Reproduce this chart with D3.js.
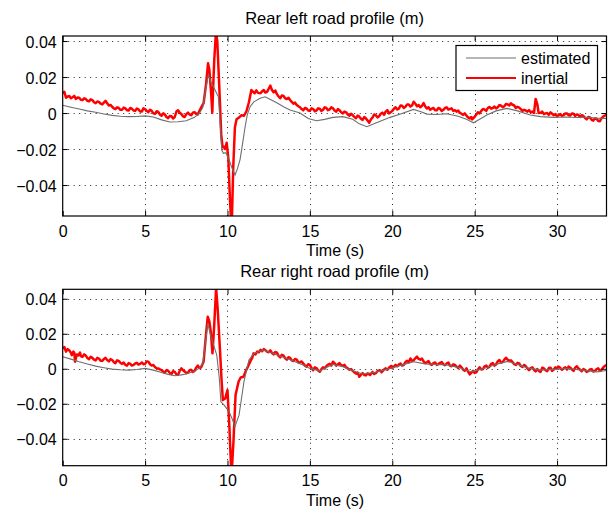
<!DOCTYPE html>
<html>
<head>
<meta charset="utf-8">
<script src="https://cdn.jsdelivr.net/npm/d3@7"></script>
<style>
  body { margin: 0; background: #fff; }
  svg { display: block; font-family: "Liberation Sans", Arial, Helvetica, sans-serif; }
</style>
</head>
<body>
<div id="chart"></div>
<script>
// ---- data: [time (s), profile (m)] ----
const xLimits = [0, 33];
const xTicks = [0, 5, 10, 15, 20, 25, 30];
const yTicks = [-0.04, -0.02, 0, 0.02, 0.04];
const leftYLimits = [-0.0572, 0.0428];
const rightYLimits = [-0.0554, 0.0454];
const titles = ["Rear left road profile (m)", "Rear right road profile (m)"];
const seriesNames = ["estimated", "inertial"];

const leftEstimated = [
  [0, 0.0043], [0.5, 0.0032], [1, 0.0022], [1.5, 0.0012], [2, 0.0004], [2.5, -0.0005], [3, -0.0013],
  [3.5, -0.0018], [4, -0.002], [4.5, -0.0019], [5, -0.0016], [5.5, -0.0022], [6, -0.0038], [6.5, -0.005],
  [7, -0.0048], [7.5, -0.0043], [8, -0.0024], [8.3, 0.0], [8.5, 0.003], [8.65, 0.012], [8.84, 0.0211],
  [9.0, 0.017], [9.15, 0.0146], [9.45, 0.009], [9.55, -0.005], [9.65, -0.0206], [9.75, -0.0224],
  [9.9, -0.022], [10.06, -0.025], [10.25, -0.03], [10.46, -0.0344], [10.6, -0.031], [10.76, -0.026],
  [10.9, -0.018], [11.07, -0.0076], [11.2, -0.001], [11.37, 0.0035], [11.6, 0.0062], [11.98, 0.0082],
  [12.28, 0.009], [12.6, 0.0075], [12.99, 0.0057], [13.4, 0.0035], [13.8, 0.0017], [14.4, 0.0],
  [14.9, -0.003], [15.4, -0.0043], [15.9, -0.0035], [16.4, -0.0024], [17.0, -0.002], [17.6, -0.0035],
  [18.0, -0.006], [18.46, -0.0076], [19.0, -0.0055], [19.87, -0.0024], [20.5, -0.0005], [21.29, 0.002],
  [21.7, 0.0008], [22.1, -0.0006], [22.7, -0.0008], [23.3, -0.0004], [24.0, -0.0018], [24.5, -0.0035],
  [24.93, -0.0054], [25.3, -0.0035], [25.74, -0.0011], [26.3, 0.0012], [26.96, 0.0026], [27.6, 0.0012],
  [28.37, -0.0011], [29.0, -0.002], [29.79, -0.0024], [30.5, -0.0022], [31.2, -0.0025], [31.8, -0.0024],
  [32.4, -0.0028], [33, -0.003]
];

const leftInertial = [
  [0, 0.011], [0.1, 0.0118], [0.2, 0.0085], [0.3, 0.0092], [0.4, 0.0095], [0.5, 0.0082], [0.6, 0.0088],
  [0.7, 0.0095], [0.8, 0.0078], [0.9, 0.0086], [1.0, 0.0085], [1.1, 0.0074], [1.2, 0.0072], [1.3, 0.0082],
  [1.4, 0.0078], [1.5, 0.0068], [1.6, 0.0065], [1.7, 0.0076], [1.8, 0.0072], [1.9, 0.006], [2.0, 0.0055],
  [2.1, 0.0064], [2.2, 0.0062], [2.3, 0.0052], [2.4, 0.0048], [2.5, 0.0058], [2.6, 0.0068], [2.7, 0.0054],
  [2.8, 0.0042], [2.9, 0.0045], [3.0, 0.0035], [3.1, 0.0026], [3.2, 0.0022], [3.3, 0.0032], [3.4, 0.0028],
  [3.5, 0.0018], [3.6, 0.0018], [3.7, 0.003], [3.8, 0.0026], [3.9, 0.0016], [4.0, 0.0014], [4.1, 0.0028],
  [4.2, 0.0024], [4.3, 0.0014], [4.4, 0.0012], [4.5, 0.0025], [4.6, 0.002], [4.7, 0.0008], [4.8, 0.0008],
  [4.9, 0.0026], [5.0, 0.0022], [5.1, 0.0012], [5.2, 0.0005], [5.3, 0.0018], [5.4, 0.0012], [5.5, -0.0002],
  [5.6, -0.0004], [5.7, 0.001], [5.8, 0.0006], [5.9, -0.0008], [6.0, -0.0015], [6.1, -0.0002],
  [6.2, -0.0008], [6.3, -0.0022], [6.4, -0.0028], [6.5, -0.0016], [6.6, -0.0018], [6.7, -0.003],
  [6.8, -0.0022], [6.9, 0.0008], [7.0, 0.0015], [7.1, 0.0002], [7.2, -0.0005], [7.3, -0.0018],
  [7.4, -0.0022], [7.5, -0.0006], [7.6, 0.0002], [7.7, -0.0008], [7.8, -0.0012], [7.9, 0.0002],
  [8.0, 0.0005], [8.1, -0.0004], [8.2, -0.0008], [8.3, 0.0012], [8.4, 0.003], [8.55, 0.0055],
  [8.7, 0.016], [8.82, 0.0276], [8.9, 0.024], [9.0, 0.012], [9.08, 0.0002], [9.12, 0.012], [9.2, 0.03],
  [9.3, 0.045], [9.38, 0.04], [9.5, 0.015], [9.62, -0.012], [9.7, -0.019], [9.78, -0.0187], [9.85, -0.02],
  [9.95, -0.0165], [10.05, -0.025], [10.15, -0.048], [10.25, -0.066], [10.35, -0.03], [10.45, -0.008],
  [10.55, -0.0035], [10.7, -0.0025], [10.85, -0.0012], [11.0, -0.0015], [11.15, 0.001], [11.3, 0.006],
  [11.45, 0.0128], [11.55, 0.0118], [11.65, 0.011], [11.75, 0.0126], [11.85, 0.0112], [12.0, 0.011],
  [12.1, 0.012], [12.2, 0.0128], [12.3, 0.0114], [12.4, 0.0118], [12.5, 0.0135], [12.6, 0.0152],
  [12.7, 0.0128], [12.8, 0.0115], [12.9, 0.0125], [13.0, 0.0105], [13.1, 0.0092], [13.2, 0.0082],
  [13.3, 0.0098], [13.4, 0.0095], [13.5, 0.0082], [13.6, 0.0078], [13.7, 0.0085], [13.8, 0.0072],
  [13.9, 0.0062], [14.0, 0.0052], [14.1, 0.0058], [14.2, 0.0045], [14.3, 0.0038], [14.4, 0.0032],
  [14.5, 0.0022], [14.6, 0.0015], [14.7, 0.0028], [14.8, 0.0025], [14.9, 0.0014], [15.0, 0.0012],
  [15.1, 0.0026], [15.2, 0.0022], [15.3, 0.001], [15.4, 0.0014], [15.5, 0.0026], [15.6, 0.0024],
  [15.7, 0.0012], [15.8, 0.0018], [15.9, 0.0032], [16.0, 0.0028], [16.1, 0.0016], [16.2, 0.002],
  [16.3, 0.0032], [16.4, 0.0026], [16.5, 0.0014], [16.6, 0.0008], [16.7, 0.0022], [16.8, 0.0015],
  [16.9, 0.0004], [17.0, -0.0002], [17.1, 0.0008], [17.2, 0.0004], [17.3, -0.0008], [17.4, -0.0015],
  [17.5, -0.0004], [17.6, -0.0012], [17.7, -0.0022], [17.8, -0.0028], [17.9, -0.0014], [18.0, -0.002],
  [18.1, -0.0032], [18.2, -0.0038], [18.3, -0.0022], [18.4, -0.003], [18.5, -0.0042], [18.6, -0.0054],
  [18.7, -0.0036], [18.8, -0.0025], [18.9, -0.0008], [19.0, -0.0012], [19.1, -0.0024], [19.2, -0.0018],
  [19.3, -0.0004], [19.4, 0.0002], [19.5, -0.001], [19.6, 0.0008], [19.7, 0.0016], [19.8, -0.0002],
  [19.9, 0.0004], [20.0, 0.0012], [20.1, 0.0024], [20.2, 0.0032], [20.3, 0.002], [20.4, 0.0025],
  [20.5, 0.0042], [20.6, 0.004], [20.7, 0.0028], [20.8, 0.0035], [20.9, 0.0048], [21.0, 0.0048],
  [21.1, 0.0036], [21.2, 0.0042], [21.3, 0.0063], [21.4, 0.0052], [21.5, 0.0038], [21.6, 0.0044],
  [21.7, 0.0032], [21.8, 0.004], [21.9, 0.0055], [22.0, 0.0036], [22.1, 0.0025], [22.2, 0.0032],
  [22.3, 0.0018], [22.4, 0.0024], [22.5, 0.0028], [22.6, 0.0016], [22.7, 0.0015], [22.8, 0.0028],
  [22.9, 0.0024], [23.0, 0.0012], [23.1, 0.0018], [23.2, 0.0028], [23.3, 0.0032], [23.4, 0.002],
  [23.5, 0.0022], [23.6, 0.0026], [23.7, 0.0012], [23.8, 0.0016], [23.9, 0.0008], [24.0, 0.0014],
  [24.1, 0.0002], [24.2, -0.0004], [24.3, -0.001], [24.4, -0.0002], [24.5, -0.0014], [24.6, -0.0024],
  [24.7, -0.003], [24.8, -0.0022], [24.85, -0.0035], [24.95, -0.0026], [25.0, -0.002], [25.1, -0.0008],
  [25.2, 0.0004], [25.3, -0.0002], [25.4, 0.0012], [25.5, 0.0022], [25.6, 0.002], [25.7, 0.0012],
  [25.8, 0.0028], [25.9, 0.0034], [26.0, 0.0024], [26.1, 0.0028], [26.2, 0.0036], [26.3, 0.0026],
  [26.4, 0.0032], [26.5, 0.0044], [26.6, 0.0042], [26.7, 0.0032], [26.8, 0.0038], [26.9, 0.005],
  [27.0, 0.0048], [27.1, 0.0042], [27.2, 0.0054], [27.3, 0.0046], [27.4, 0.0042], [27.5, 0.0028],
  [27.6, 0.0035], [27.7, 0.003], [27.8, 0.0022], [27.9, 0.0012], [28.0, 0.0018], [28.1, 0.0014],
  [28.2, 0.0008], [28.3, 0.0016], [28.4, 0.0004], [28.5, 0.0008], [28.6, 0.0], [28.7, 0.0078],
  [28.8, 0.005], [28.88, 0.0], [29.0, 0.0002], [29.1, 0.0008], [29.2, -0.0006], [29.3, -0.0002],
  [29.4, 0.0], [29.5, -0.001], [29.6, 0.0004], [29.7, -0.0004], [29.8, -0.0012], [29.9, -0.0006],
  [30.0, -0.0018], [30.1, -0.0012], [30.2, -0.0006], [30.3, -0.0016], [30.4, -0.0012], [30.5, -0.0002],
  [30.6, -0.0002], [30.7, -0.0012], [30.8, -0.0014], [30.9, -0.0002], [31.0, -0.0004], [31.1, -0.0016],
  [31.2, -0.0008], [31.3, -0.0012], [31.4, -0.0022], [31.5, -0.0012], [31.6, -0.0016], [31.7, -0.0028],
  [31.8, -0.0035], [31.9, -0.0022], [32.0, -0.0025], [32.1, -0.0038], [32.2, -0.0042], [32.3, -0.003],
  [32.4, -0.0032], [32.5, -0.0044], [32.6, -0.0045], [32.7, -0.0028], [32.8, -0.002], [32.9, -0.0014],
  [33.0, -0.001]
];

const rightEstimated = [
  [0, 0.0069], [0.5, 0.0055], [1, 0.004], [1.5, 0.0027], [2, 0.0015], [2.5, 0.0006], [3, -0.0002],
  [3.5, -0.0006], [4, -0.0008], [4.5, -0.0004], [5, 0.0002], [5.5, -0.0008], [6, -0.0021], [6.4, -0.0032],
  [6.8, -0.004], [7.2, -0.0035], [7.5, -0.003], [8, -0.0015], [8.3, 0.0005], [8.5, 0.003], [8.65, 0.014],
  [8.8, 0.026], [8.95, 0.02], [9.1, 0.0154], [9.35, 0.0078], [9.5, -0.005], [9.6, -0.0189], [9.8, -0.0208],
  [10.1, -0.0246], [10.3, -0.029], [10.45, -0.0331], [10.7, -0.0265], [10.85, -0.017], [11.0, -0.0074],
  [11.3, 0.005], [11.6, 0.0088], [12.2, 0.0107], [13.0, 0.0078], [14.0, 0.0044], [14.5, 0.0025],
  [15.0, 0.0002], [15.6, -0.0012], [16.4, 0.0025], [17.0, 0.0012], [17.6, -0.0012], [18.2, -0.003],
  [19.0, -0.002], [20.0, 0.0005], [20.6, 0.0022], [21.3, 0.004], [22.0, 0.0028], [23.3, 0.0022],
  [24.0, 0.0008], [24.8, -0.0018], [25.8, 0.0008], [26.4, 0.0028], [27.0, 0.0042], [27.6, 0.0025],
  [28.2, 0.0005], [29.0, -0.0008], [30.0, -0.0002], [30.6, 0.0003], [31.5, -0.0008], [32.4, -0.0018],
  [33, -0.001]
];

const rightInertial = [
  [0, 0.0116], [0.1, 0.0124], [0.2, 0.0098], [0.3, 0.0112], [0.4, 0.0105], [0.5, 0.0092], [0.55, 0.0078],
  [0.65, 0.0098], [0.7, 0.0092], [0.75, 0.004], [0.85, 0.0082], [0.95, 0.0076], [1.05, 0.0092],
  [1.1, 0.0072], [1.2, 0.0068], [1.3, 0.0082], [1.4, 0.0075], [1.5, 0.0062], [1.6, 0.0055], [1.7, 0.0068],
  [1.8, 0.0062], [1.9, 0.0052], [2.0, 0.0048], [2.1, 0.0062], [2.2, 0.0058], [2.3, 0.0046], [2.4, 0.0045],
  [2.5, 0.0056], [2.6, 0.0062], [2.7, 0.005], [2.8, 0.0042], [2.9, 0.0055], [3.0, 0.005], [3.1, 0.0038],
  [3.2, 0.0032], [3.3, 0.0048], [3.4, 0.0045], [3.5, 0.0034], [3.6, 0.0028], [3.7, 0.0036], [3.8, 0.0022],
  [3.9, 0.0018], [4.0, 0.0032], [4.1, 0.0028], [4.2, 0.0018], [4.3, 0.0022], [4.4, 0.003], [4.5, 0.0034],
  [4.6, 0.0024], [4.7, 0.0028], [4.8, 0.0036], [4.9, 0.0026], [5.0, 0.0028], [5.1, 0.0042], [5.2, 0.004],
  [5.3, 0.0026], [5.4, 0.0018], [5.5, 0.0022], [5.6, 0.001], [5.7, 0.0002], [5.8, 0.0002], [5.9, -0.0004],
  [6.0, -0.0008], [6.1, -0.0016], [6.2, -0.0022], [6.3, -0.0008], [6.4, -0.0012], [6.5, -0.0024],
  [6.6, -0.003], [6.7, -0.0014], [6.8, -0.0018], [6.9, -0.0032], [7.0, -0.0035], [7.1, -0.0012],
  [7.2, 0.0002], [7.3, -0.0008], [7.4, -0.0015], [7.5, -0.0024], [7.6, -0.0022], [7.7, -0.0008],
  [7.8, -0.0006], [7.9, -0.0018], [8.0, -0.0012], [8.1, 0.0006], [8.2, 0.0018], [8.3, 0.0004],
  [8.4, 0.0008], [8.55, 0.004], [8.7, 0.02], [8.8, 0.0297], [8.9, 0.027], [8.99, 0.0211], [9.09, 0.0088],
  [9.19, 0.024], [9.31, 0.046], [9.4, 0.035], [9.55, 0.0097], [9.65, -0.008], [9.72, -0.0179],
  [9.86, -0.017], [10.0, -0.0122], [10.12, -0.034], [10.24, -0.062], [10.36, -0.042], [10.49, -0.015],
  [10.67, -0.0074], [10.8, -0.005], [10.97, -0.0046], [11.1, -0.0015], [11.28, 0.002], [11.4, 0.0045],
  [11.5, 0.0062], [11.58, 0.0088], [11.7, 0.0082], [11.8, 0.0098], [11.9, 0.0094], [12.0, 0.0108],
  [12.1, 0.01], [12.2, 0.0112], [12.3, 0.0106], [12.4, 0.0098], [12.5, 0.0094], [12.6, 0.0105],
  [12.7, 0.009], [12.8, 0.0082], [12.9, 0.0096], [13.0, 0.0092], [13.1, 0.0074], [13.2, 0.0065],
  [13.3, 0.008], [13.4, 0.0075], [13.5, 0.006], [13.6, 0.0052], [13.7, 0.0066], [13.8, 0.0062],
  [13.9, 0.0048], [14.0, 0.0044], [14.1, 0.0056], [14.2, 0.0052], [14.3, 0.0036], [14.4, 0.0038],
  [14.5, 0.0042], [14.6, 0.003], [14.7, 0.0018], [14.8, 0.0012], [14.9, 0.0026], [15.0, 0.0022],
  [15.1, 0.0004], [15.2, -0.0008], [15.3, 0.0008], [15.4, 0.0004], [15.5, -0.001], [15.6, -0.0017],
  [15.7, -0.0002], [15.8, 0.0008], [15.9, 0.0002], [16.0, 0.0015], [16.1, 0.0024], [16.2, 0.0028],
  [16.3, 0.0018], [16.4, 0.004], [16.5, 0.0032], [16.6, 0.0018], [16.7, 0.0026], [16.8, 0.0032],
  [16.9, 0.002], [17.0, 0.0017], [17.1, 0.0022], [17.2, 0.0008], [17.3, 0.0002], [17.4, -0.0005],
  [17.5, -0.0002], [17.6, -0.0012], [17.7, -0.002], [17.8, -0.0028], [17.9, -0.0022], [18.0, -0.0046],
  [18.1, -0.0034], [18.2, -0.0025], [18.3, -0.0036], [18.4, -0.0038], [18.5, -0.0026], [18.65, -0.0036],
  [18.75, -0.0024], [18.8, -0.0018], [18.9, -0.003], [19.0, -0.0025], [19.1, -0.0014], [19.25, -0.0008],
  [19.35, -0.002], [19.4, -0.0015], [19.5, -0.0004], [19.6, 0.0002], [19.7, -0.0006], [19.85, 0.0011],
  [19.95, 0.0016], [20.0, 0.0004], [20.1, 0.0012], [20.2, 0.0022], [20.3, 0.0014], [20.4, 0.0024],
  [20.5, 0.003], [20.6, 0.0018], [20.7, 0.0022], [20.8, 0.0038], [20.9, 0.0045], [21.0, 0.0036],
  [21.1, 0.0059], [21.2, 0.0046], [21.3, 0.0048], [21.4, 0.006], [21.5, 0.0069], [21.6, 0.0056],
  [21.7, 0.0052], [21.8, 0.0058], [21.9, 0.0042], [22.0, 0.0032], [22.1, 0.0036], [22.2, 0.0044],
  [22.3, 0.0026], [22.4, 0.0022], [22.5, 0.0032], [22.6, 0.0036], [22.7, 0.0022], [22.8, 0.0026],
  [22.9, 0.0034], [23.0, 0.0038], [23.1, 0.0026], [23.2, 0.002], [23.3, 0.003], [23.4, 0.0036],
  [23.5, 0.0018], [23.6, 0.0014], [23.7, 0.0025], [23.8, 0.0022], [23.9, 0.0012], [24.0, 0.0004],
  [24.1, 0.0018], [24.2, 0.0008], [24.3, -0.0005], [24.4, -0.0012], [24.5, 0.0002], [24.6, -0.0016],
  [24.7, -0.0032], [24.8, -0.0022], [24.9, -0.0012], [25.0, -0.0024], [25.1, -0.002], [25.2, -0.0004],
  [25.3, 0.0008], [25.4, -0.0004], [25.5, -0.0002], [25.6, 0.0014], [25.7, 0.0018], [25.8, 0.0006],
  [25.9, 0.0012], [26.0, 0.0028], [26.1, 0.0032], [26.2, 0.0018], [26.3, 0.0025], [26.4, 0.0042],
  [26.5, 0.005], [26.6, 0.0036], [26.7, 0.0038], [26.8, 0.0052], [26.9, 0.0063], [27.0, 0.0052],
  [27.1, 0.0045], [27.2, 0.0048], [27.3, 0.0038], [27.4, 0.0026], [27.5, 0.0022], [27.6, 0.0034],
  [27.7, 0.003], [27.8, 0.0016], [27.9, 0.001], [28.0, 0.0022], [28.1, 0.0015], [28.2, 0.0002],
  [28.3, -0.0008], [28.4, 0.0004], [28.5, 0.0008], [28.6, -0.0006], [28.7, -0.0015], [28.8, -0.0002],
  [28.9, -0.0012], [29.0, -0.0018], [29.1, 0.0006], [29.2, 0.0002], [29.3, -0.0008], [29.4, -0.0014],
  [29.5, 0.0004], [29.6, 0.0006], [29.7, -0.0012], [29.8, -0.0004], [29.9, 0.0008], [30.0, 0.0002],
  [30.1, 0.0012], [30.2, 0.0004], [30.3, -0.0006], [30.4, 0.0002], [30.5, 0.0008], [30.6, -0.0004],
  [30.7, 0.0012], [30.8, 0.0006], [30.9, -0.0004], [31.0, -0.0012], [31.1, 0.0006], [31.2, 0.0014],
  [31.3, 0.0002], [31.4, -0.0006], [31.5, -0.0014], [31.6, -0.0002], [31.7, -0.0008], [31.8, -0.0018],
  [31.9, -0.0014], [32.0, -0.0004], [32.1, -0.0002], [32.2, -0.0016], [32.3, -0.0012], [32.4, -0.0002],
  [32.5, 0.0002], [32.6, -0.0012], [32.7, -0.0006], [32.8, 0.0008], [32.9, 0.0016], [33.0, 0.002]
];

// ---- layout ----
const W = 608, H = 512;
const plotLeft = 62.7, plotRight = 606.5;
const panels = [
  { top: 36, bottom: 216, yLimits: leftYLimits, title: titles[0], est: leftEstimated, ins: leftInertial, legend: true },
  { top: 289.3, bottom: 465.7, yLimits: rightYLimits, title: titles[1], est: rightEstimated, ins: rightInertial, legend: false }
];

const svg = d3.select("#chart").append("svg")
  .attr("width", W)
  .attr("height", H);

svg.append("rect").attr("width", W).attr("height", H).attr("fill", "#fff");

const x = d3.scaleLinear().domain(xLimits).range([plotLeft, plotRight]);
const tickLen = 5;
const estColor = "#6e6e6e", insColor = "#ff0000";

panels.forEach((p, i) => {
  const y = d3.scaleLinear().domain(p.yLimits).range([p.bottom, p.top]);
  const g = svg.append("g");
  const h = p.bottom - p.top;

  // clip path for the data
  const clipId = "clip" + i;
  svg.append("clipPath").attr("id", clipId)
    .append("rect")
    .attr("x", plotLeft).attr("y", p.top)
    .attr("width", plotRight - plotLeft).attr("height", h);

  // dotted grid
  const grid = g.append("g").attr("stroke", "#222").attr("stroke-width", 1)
    .attr("stroke-dasharray", "1,4.5");
  grid.selectAll(".vg").data(xTicks.filter(t => t > xLimits[0])).enter().append("line")
    .attr("x1", d => Math.round(x(d)) + 0.5).attr("x2", d => Math.round(x(d)) + 0.5)
    .attr("y1", p.bottom).attr("y2", p.top);
  grid.selectAll(".hg").data(yTicks).enter().append("line")
    .attr("y1", d => Math.round(y(d)) + 0.5).attr("y2", d => Math.round(y(d)) + 0.5)
    .attr("x1", plotLeft).attr("x2", plotRight);

  // lines
  const line = d3.line().x(d => x(d[0])).y(d => y(d[1]));
  const lines = g.append("g").attr("clip-path", `url(#${clipId})`);
  lines.append("path").datum(p.ins)
    .attr("fill", "none").attr("stroke", insColor).attr("stroke-width", 2.5)
    .attr("stroke-linejoin", "round")
    .attr("d", line);
  lines.append("path").datum(p.est)
    .attr("fill", "none").attr("stroke", estColor).attr("stroke-width", 1.1)
    .attr("d", line);

  // axes: ticks pointing inward on all four sides
  const xAxis = d3.axisBottom(x).tickValues(xTicks).tickSize(-tickLen).tickPadding(9.3)
    .tickFormat(d3.format("d"));
  const gx = g.append("g").attr("transform", `translate(0,${p.bottom})`).call(xAxis);
  gx.select(".domain").remove();
  gx.selectAll("text").attr("font-size", 16).attr("fill", "#000")
    .attr("font-family", "Liberation Sans, Arial, sans-serif");

  const xTop = d3.axisTop(x).tickValues(xTicks).tickSize(-tickLen).tickFormat("");
  const gxt = g.append("g").attr("transform", `translate(0,${p.top})`).call(xTop);
  gxt.select(".domain").remove();

  const yFmt = d => d === 0 ? "0" : d3.format(".2f")(d).replace("-", "\u2212");
  const yAxis = d3.axisLeft(y).tickValues(yTicks).tickSize(-tickLen).tickPadding(6)
    .tickFormat(yFmt);
  const gy = g.append("g").attr("transform", `translate(${plotLeft},0)`).call(yAxis);
  gy.select(".domain").remove();
  gy.selectAll("text").attr("font-size", 16).attr("fill", "#000").attr("dy", "0.38em")
    .attr("font-family", "Liberation Sans, Arial, sans-serif");

  const yRight = d3.axisRight(y).tickValues(yTicks).tickSize(-tickLen).tickFormat("");
  const gyr = g.append("g").attr("transform", `translate(${plotRight},0)`).call(yRight);
  gyr.select(".domain").remove();

  g.selectAll(".tick line").attr("stroke", "#000");

  // box
  g.append("rect")
    .attr("x", plotLeft).attr("y", p.top)
    .attr("width", plotRight - plotLeft).attr("height", h)
    .attr("fill", "none").attr("stroke", "#000").attr("stroke-width", 1.2);

  // title and x label
  g.append("text")
    .attr("x", (plotLeft + plotRight) / 2).attr("y", p.top - 12)
    .attr("text-anchor", "middle").attr("font-size", 16.5)
    .text(p.title);
  g.append("text")
    .attr("x", (plotLeft + plotRight) / 2 + 0.5).attr("y", p.bottom + 40)
    .attr("text-anchor", "middle").attr("font-size", 16)
    .text("Time (s)");

  // legend
  if (p.legend) {
    const lg = g.append("g").attr("transform", "translate(456,45.5)");
    lg.append("rect").attr("width", 141.5).attr("height", 45)
      .attr("fill", "#fff").attr("stroke", "#000").attr("stroke-width", 1.2);
    const colors = [estColor, insColor];
    const widths = [1.1, 2];
    seriesNames.forEach((name, k) => {
      const ly = 12.5 + k * 20;
      lg.append("line").attr("x1", 10).attr("x2", 60).attr("y1", ly).attr("y2", ly)
        .attr("stroke", colors[k]).attr("stroke-width", widths[k]);
      lg.append("text").attr("x", 65).attr("y", ly + 6)
        .attr("font-size", 16).text(name);
    });
  }
});
</script>
</body>
</html>
